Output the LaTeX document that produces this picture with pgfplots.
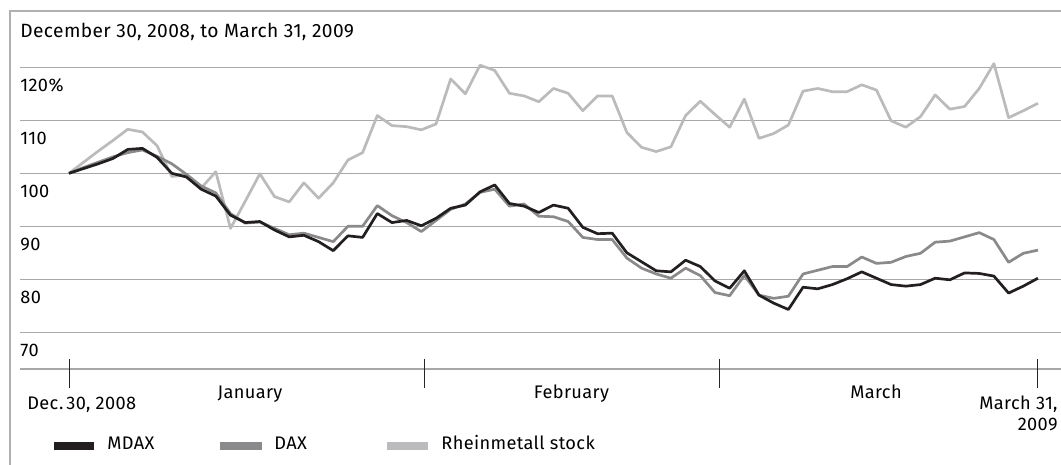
\documentclass[border=0pt]{standalone}
\usepackage{pgfplots}
\usepackage{pgfplotstable}
\pgfplotsset{compat=1.18}
\usepackage{fontspec}
\setmainfont{Fira Sans}[LetterSpace=2]
\definecolor{cM}{HTML}{231F20}
\definecolor{cD}{HTML}{8A8A8C}
\definecolor{cR}{HTML}{BBBBBD}
\definecolor{gridC}{HTML}{A8A8A8}
\definecolor{frameC}{HTML}{B0B0B0}
\pgfplotstableread{
i mdax dax rhm
0 100 100 100
1 100.9 101.1 102.1
2 101.8 102.1 104.2
3 102.8 103.1 106.2
4 104.5 103.9 108.3
5 104.7 104.4 107.8
6 103.0 103.2 105.2
7 100.0 101.8 99.4
8 99.3 99.8 99.7
9 97.0 97.6 97.2
10 95.7 96.3 100.3
11 92.1 92.4 89.6
12 90.7 90.6 94.7
13 90.9 90.8 99.9
14 89.3 89.6 95.6
15 88.0 88.4 94.6
16 88.3 88.7 98.2
17 87.1 87.9 95.3
18 85.4 87.1 98.2
19 88.2 90.0 102.5
20 87.9 90.0 103.9
21 92.4 93.9 110.9
22 90.7 92.0 109.0
23 91.1 90.7 108.8
24 90.1 89.0 108.2
25 91.5 91.1 109.3
26 93.4 93.2 117.8
27 94.0 94.2 115.0
28 96.5 96.4 120.4
29 97.8 97.0 119.4
30 94.3 93.8 115.1
31 93.8 94.2 114.6
32 92.6 91.9 113.5
33 94.0 91.8 116.0
34 93.4 90.9 115.1
35 89.8 87.9 111.8
36 88.6 87.5 114.6
37 88.7 87.5 114.6
38 85.0 84.0 107.7
39 83.3 82.1 104.9
40 81.6 81.0 104.1
41 81.4 80.2 105.0
42 83.6 82.1 110.9
43 82.4 80.7 113.6
44 79.7 77.5 111.1
45 78.3 76.9 108.7
46 81.6 80.7 114.0
47 77.0 77.0 106.6
48 75.5 76.4 107.5
49 74.3 76.8 109.1
50 78.5 81.0 115.5
51 78.2 81.7 116.0
52 79.0 82.4 115.4
53 80.1 82.4 115.4
54 81.4 84.2 116.7
55 80.2 83.0 115.7
56 79.0 83.2 109.9
57 78.7 84.3 108.7
58 79.0 84.9 110.7
59 80.2 87.0 114.8
60 79.9 87.2 112.1
61 81.2 88.0 112.6
62 81.1 88.8 116.0
63 80.6 87.5 120.7
64 77.4 83.2 110.5
65 78.7 84.9 111.8
66 80.2 85.5 113.2
}\data
\begin{document}
\fontsize{9.1}{11}\selectfont
\begin{tikzpicture}
\useasboundingbox (0,0) rectangle (530.5pt,232.5pt);
\draw[frameC, line width=0.65pt] (5pt,-1pt) -- (5pt,227pt) -- (531pt,227pt);
\begin{axis}[at={(10pt,48pt)}, anchor=south west, scale only axis,
  width=520.5pt, height=150.85pt,
  xmin=-3.337, xmax=67.57, ymin=63.07, ymax=120,
  axis line style={draw=none}, xtick=\empty,
  ytick={70,80,...,120}, yticklabels={}, major tick length=0pt,
  ymajorgrids, grid style={gridC, line width=0.65pt},
  clip=false]
\draw[gridC, line width=0.65pt] (rel axis cs:0,0) -- (rel axis cs:1,0);
\node[anchor=base west, inner sep=0pt, yshift=-12.35pt] at (axis cs:-3.337,120) {120\%};
\node[anchor=base west, inner sep=0pt, yshift=-12.35pt] at (axis cs:-3.337,110) {110};
\node[anchor=base west, inner sep=0pt, yshift=-12.35pt] at (axis cs:-3.337,100) {100};
\node[anchor=base west, inner sep=0pt, yshift=-12.35pt] at (axis cs:-3.337,90) {90};
\node[anchor=base west, inner sep=0pt, yshift=-12.35pt] at (axis cs:-3.337,80) {80};
\node[anchor=base west, inner sep=0pt, yshift=-12.35pt] at (axis cs:-3.337,70) {70};
\addplot[cR, line width=1.35pt, line join=round] table[x=i, y=rhm] {\data};
\addplot[cD, line width=1.35pt, line join=round] table[x=i, y=dax] {\data};
\addplot[cM, line width=1.35pt, line join=round] table[x=i, y=mdax] {\data};
\end{axis}
\foreach \xx in {34.5,212,359.5,518.5}{
  \draw[black!85, line width=0.5pt] (\xx pt,53pt) -- (\xx pt,38.5pt);
}
\node[anchor=base west, inner sep=0pt, font=\fontsize{9.6}{12}\selectfont] at (10pt,213.7pt) {December 30, 2008, to March 31, 2009};
\node[anchor=base west, inner sep=0pt] at (13.5pt,27.8pt) {Dec.\,30, 2008};
\node[anchor=base, inner sep=0pt] at (125pt,33.3pt) {January};
\node[anchor=base, inner sep=0pt] at (285.75pt,33.3pt) {February};
\node[anchor=base, inner sep=0pt] at (438pt,33.3pt) {March};
\node[anchor=base east, inner sep=0pt] at (529pt,27.8pt) {March 31,};
\node[anchor=base east, inner sep=0pt] at (529pt,17.3pt) {2009};
\fill[cM] (27pt,7.5pt) rectangle (47pt,11.7pt);
\node[anchor=base west, inner sep=0pt] at (53.5pt,7.5pt) {MDAX};
\fill[cD] (110pt,7.5pt) rectangle (131pt,11.7pt);
\node[anchor=base west, inner sep=0pt] at (137pt,7.5pt) {DAX};
\fill[cR] (193.5pt,7.5pt) rectangle (214pt,11.7pt);
\node[anchor=base west, inner sep=0pt] at (220.5pt,7.5pt) {Rheinmetall stock};
\end{tikzpicture}
\end{document}
